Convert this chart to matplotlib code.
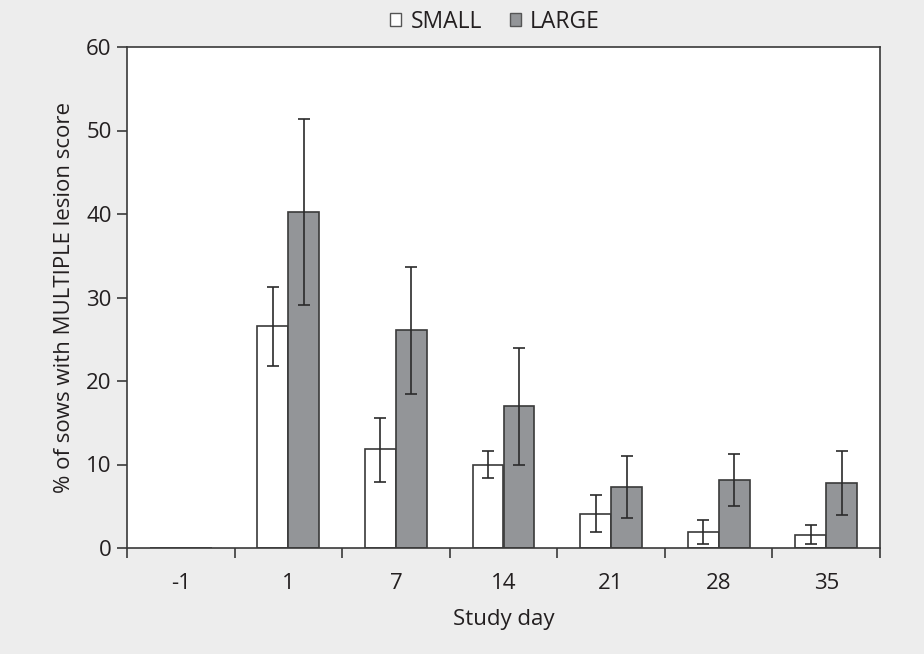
import matplotlib.pyplot as plt
import numpy as np
from matplotlib.patches import Patch

plt.rcParams['font.family'] = ['Open Sans', 'DejaVu Sans']

days = ['-1', '1', '7', '14', '21', '28', '35']
small = [0, 26.6, 11.8, 10.0, 4.1, 1.95, 1.6]
large = [0, 40.2, 26.1, 17.0, 7.35, 8.15, 7.8]
# error bar ends (lower, upper)
small_lo = [np.nan, 21.8, 7.9, 8.4, 1.95, 0.5, 0.5]
small_hi = [np.nan, 31.3, 15.6, 11.65, 6.3, 3.4, 2.7]
large_lo = [np.nan, 29.1, 18.4, 9.9, 3.6, 5.0, 4.0]
large_hi = [np.nan, 51.4, 33.6, 23.9, 11.0, 11.3, 11.6]

bg = '#ededed'
dark = '#231f20'
edge = '#3a3a3a'
gray = '#939598'

fig = plt.figure(figsize=(9.24, 6.54), dpi=100, facecolor=bg)
ax = fig.add_axes([127 / 924, 1 - 548 / 654, 753 / 924, 501 / 654])
ax.set_facecolor('white')

x = np.arange(len(days))
bw = 0.288
s = np.array(small)
l = np.array(large)
s_err = [s - np.array(small_lo), np.array(small_hi) - s]
l_err = [l - np.array(large_lo), np.array(large_hi) - l]
ax.bar(x - bw / 2, small, width=bw, color='white', edgecolor=edge, linewidth=1.2, zorder=2)
ax.bar(x + bw / 2, large, width=bw, color=gray, edgecolor=edge, linewidth=1.2, zorder=2)
ax.errorbar(x - bw / 2, small, yerr=s_err, fmt='none', ecolor='#2b2b2b', elinewidth=1.2,
            capsize=4, capthick=1.2, zorder=3)
ax.errorbar(x + bw / 2, large, yerr=l_err, fmt='none', ecolor='#2b2b2b', elinewidth=1.2,
            capsize=4, capthick=1.2, zorder=3)

ax.set_xlim(-0.5, len(days) - 0.5)
ax.set_ylim(0, 60)
ax.set_yticks(np.arange(0, 61, 10))
ax.set_xticks(x)
ax.set_xticklabels(days)
ax.set_xticks(np.arange(-0.5, len(days)), minor=True)
ax.tick_params(axis='x', which='major', length=0, pad=18, labelsize=16, labelcolor=dark)
ax.tick_params(axis='x', which='minor', length=7, width=1.2, color=edge, direction='out')
ax.tick_params(axis='y', length=7, width=1.2, color=edge, direction='out', pad=4,
               labelsize=16, labelcolor=dark)
for sp in ax.spines.values():
    sp.set_color(edge)
    sp.set_linewidth(1.2)

ax.set_ylabel('% of sows with MULTIPLE lesion score', fontsize=16, color=dark, labelpad=8)
ax.set_xlabel('Study day', fontsize=16, color=dark, labelpad=11)

handles = [Patch(facecolor='white', edgecolor='#555555', linewidth=1),
           Patch(facecolor=gray, edgecolor='#555555', linewidth=1)]
fig.legend(handles, ['SMALL', 'LARGE'], loc='center', bbox_to_anchor=(495 / 924, 1 - 22 / 654),
           ncol=2, frameon=False, fontsize=16.5, handlelength=0.5, handleheight=0.5,
           handletextpad=0.4, columnspacing=1.2, labelcolor=dark)

fig.savefig('out.png', dpi=100, facecolor=bg)
